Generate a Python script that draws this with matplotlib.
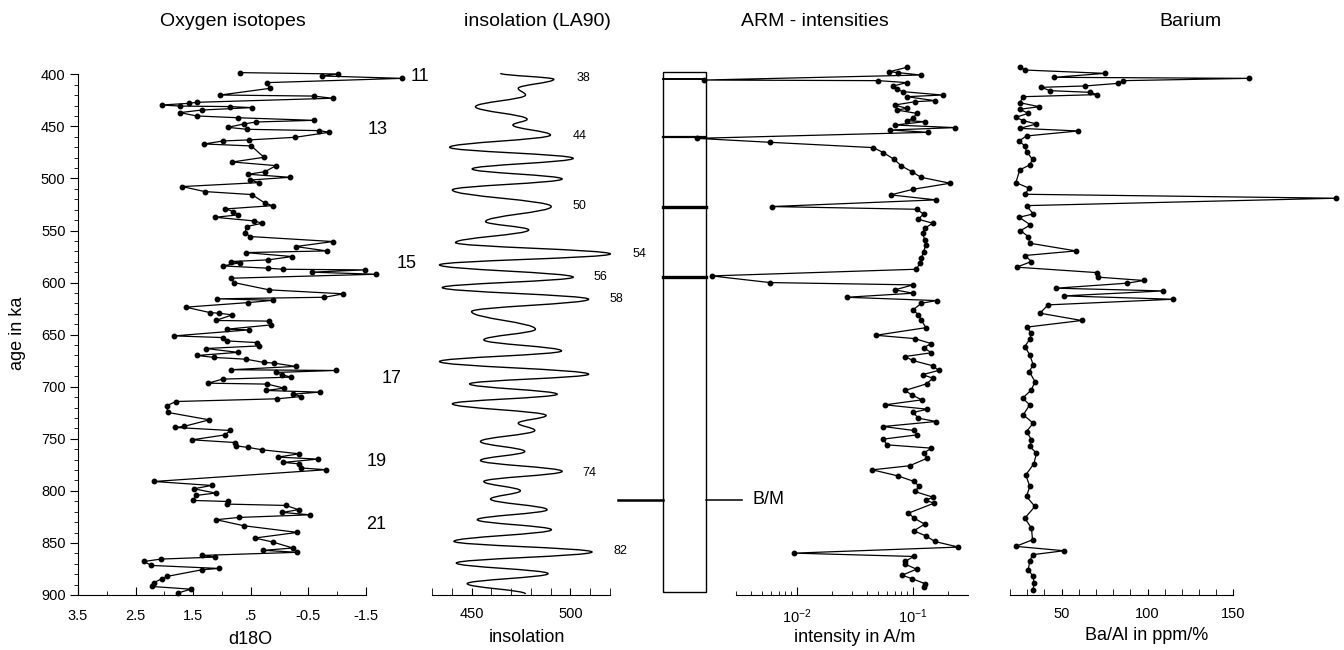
import matplotlib
matplotlib.use("Agg")
import matplotlib.pyplot as plt
import matplotlib.transforms as mtransforms
from matplotlib.path import Path
from matplotlib.patches import PathPatch, Rectangle
from matplotlib.ticker import FixedLocator, NullFormatter

plt.rcParams['font.family'] = ['Liberation Sans', 'DejaVu Sans']
plt.rcParams['mathtext.fontset'] = 'custom'
plt.rcParams['mathtext.rm'] = 'Liberation Sans'
plt.rcParams['mathtext.it'] = 'Liberation Sans'

# ---- oxygen isotopes (age ka, d18O)
d18o_age = [398.4, 399.7, 401.6, 403.9, 408.0, 413.5, 419.9, 420.9, 423.0, 426.9,
            427.9, 429.5, 430.5, 431.0, 432.0, 434.3, 436.8, 440.0, 441.7, 444.2,
            445.8, 447.7, 450.9, 452.8, 454.1, 455.7, 460.5, 463.0, 464.0, 466.9,
            468.8, 479.7, 484.2, 487.7, 493.4, 496.0, 498.9, 501.5, 504.0, 507.8,
            512.6, 515.5, 523.8, 526.1, 529.3, 531.8, 535.0, 537.3, 540.8, 543.0,
            546.2, 552.0, 555.8, 560.6, 565.4, 569.6, 571.2, 575.0, 578.2, 579.8,
            581.0, 584.0, 586.2, 587.2, 587.8, 590.0, 592.0, 595.8, 600.0, 607.0,
            610.8, 614.1, 615.6, 617.0, 619.2, 623.6, 628.8, 629.4, 631.0, 636.4,
            637.0, 640.6, 644.8, 645.4, 651.2, 652.8, 656.0, 657.6, 660.8, 663.3,
            667.0, 670.0, 671.9, 673.6, 676.7, 677.3, 680.5, 683.7, 684.4, 686.3,
            688.6, 690.8, 692.7, 696.6, 697.5, 701.4, 703.6, 705.2, 707.1, 709.4,
            711.6, 714.2, 718.3, 724.7, 731.8, 738.1, 739.1, 742.0, 746.2, 751.0,
            753.6, 756.8, 758.3, 760.6, 764.4, 767.6, 769.5, 772.7, 774.0, 778.0,
            779.7, 791.0, 794.8, 798.0, 802.1, 804.4, 809.2, 810.2, 812.7, 814.0,
            818.1, 820.7, 823.0, 825.5, 827.7, 833.5, 839.9, 845.3, 849.1, 854.9,
            857.1, 859.0, 862.0, 863.6, 865.5, 867.8, 871.6, 874.5, 875.7, 882.2,
            884.4, 888.0, 891.8, 894.4, 898.2]
d18o_val = [0.68, -1.02, -0.73, -2.13, 0.22, 0.17, 1.03, -0.59, -0.92, 1.44,
            1.58, 2.05, 1.73, 0.86, 0.48, 1.35, 1.73, 1.44, 0.73, -0.59,
            0.41, 0.62, 0.90, 0.57, -0.69, -0.86, -0.27, 0.53, 0.98, 1.31,
            0.49, 0.27, 0.82, 0.06, 0.25, 0.54, -0.18, 0.51, 0.36, 1.69,
            1.30, 0.48, 0.25, 0.12, 0.94, 0.80, 0.72, 1.12, 0.44, 0.30,
            0.57, 0.60, 0.51, -0.93, -0.28, -0.82, 0.59, -0.22, 0.20, 0.85,
            0.69, 0.99, 0.20, -0.06, -1.48, -0.56, -1.67, 0.84, 0.79, 0.18,
            -1.11, -0.78, 1.08, 0.11, 0.54, 1.63, 1.21, 1.06, 0.82, 1.11,
            0.18, 0.14, 0.92, 0.53, 1.83, 0.98, 0.92, 0.40, 0.35, 1.28,
            0.72, 1.43, 1.13, 0.58, 0.27, 0.10, -0.28, 0.85, -0.98, 0.07,
            -0.05, -0.20, 0.99, 1.24, 0.21, -0.08, 0.24, -0.70, -0.24, -0.38,
            0.04, 1.80, 1.96, 1.94, 1.22, 1.66, 1.82, 0.86, 0.94, 1.52,
            0.77, 0.76, 0.54, 0.30, -0.34, 0.03, -0.67, -0.06, -0.33, -0.37,
            -0.81, 2.18, 1.18, 1.49, 1.11, 1.45, 1.50, 0.90, 0.92, -0.11,
            -0.33, -0.05, -0.53, 0.70, 1.10, 0.62, -0.31, 0.43, 0.12, -0.23,
            0.28, -0.31, 1.35, 1.12, 2.06, 2.35, 2.23, 1.05, 1.34, 1.96,
            2.04, 2.18, 2.22, 1.54, 1.77]
stage_labels = ['11', '13', '15', '17', '19', '21']
stage_val = [-2.44, -1.71, -2.21, -1.95, -1.69, -1.67]
stage_age = [402.3, 452.8, 582.1, 691.7, 771.8, 831.9]

# ---- insolation turning points (age ka, W/m2)
ins_age = [399.0, 404.8, 413.5, 419.9, 431.1, 443.2, 448.7, 458.3, 470.1, 480.7,
           490.9, 500.5, 511.0, 527.0, 541.4, 549.4, 561.6, 572.5, 583.0, 594.8,
           604.8, 616.0, 627.8, 644.8, 655.0, 665.6, 675.8, 688.0, 697.3, 707.2,
           716.4, 727.6, 735.0, 742.0, 752.6, 762.2, 770.8, 781.3, 791.0, 799.9,
           807.9, 818.1, 827.7, 837.3, 848.5, 858.7, 869.3, 879.5, 889.1, 899.0]
ins_val = [464.6, 491.6, 473.6, 477.3, 452.0, 478.1, 470.9, 489.9, 438.9, 501.4,
           450.3, 495.8, 440.3, 490.3, 457.1, 478.9, 441.9, 520.2, 433.8, 501.4,
           435.2, 509.2, 450.0, 482.3, 456.2, 495.5, 433.8, 509.2, 449.0, 493.3,
           440.3, 487.7, 473.6, 482.0, 454.5, 476.9, 454.5, 495.8, 456.2, 474.7,
           459.6, 488.2, 452.9, 490.4, 441.1, 510.9, 442.3, 488.7, 447.8, 477.3]
cycle_labels = ['38', '44', '50', '54', '56', '58', '74', '82']
cycle_val = [506.4, 504.8, 504.3, 534.7, 515.0, 523.4, 509.4, 525.1]
cycle_age = [403.6, 459.2, 526.1, 572.5, 594.2, 615.9, 782.6, 858.2]

# ---- ARM intensities (age ka, A/m)
arm_age = [393.3, 397.5, 398.4, 400.7, 405.5, 406.1, 408.0, 411.2, 414.4, 416.7,
           419.9, 421.5, 425.3, 426.3, 429.5, 432.7, 434.3, 437.5, 442.3, 444.5,
           445.5, 448.7, 451.2, 453.5, 455.7, 461.5, 465.3, 470.4, 475.2, 481.6,
           488.0, 493.4, 498.9, 504.6, 510.4, 515.8, 520.6, 527.0, 529.6, 534.1,
           539.2, 543.0, 547.8, 552.6, 559.0, 563.8, 570.2, 576.6, 581.4, 587.2,
           593.6, 600.0, 602.2, 607.0, 610.2, 614.1, 617.3, 619.8, 626.2, 631.0,
           636.2, 643.3, 650.6, 653.8, 658.6, 662.5, 667.4, 671.0, 674.8, 679.9,
           684.4, 688.4, 691.8, 697.2, 703.6, 707.8, 712.6, 717.4, 721.6, 724.7,
           730.2, 733.4, 738.2, 742.0, 746.2, 750.3, 755.8, 759.0, 763.8, 768.6,
           775.9, 779.8, 785.6, 791.0, 795.8, 800.6, 806.0, 809.2, 811.8, 821.4,
           826.2, 832.0, 838.4, 843.2, 848.6, 854.0, 859.8, 863.0, 867.8, 870.4,
           875.2, 881.0, 884.2, 889.0, 892.2]
arm_val = [0.089, 0.063, 0.075, 0.118, 0.00158, 0.0506, 0.089, 0.068, 0.073, 0.083,
           0.181, 0.089, 0.155, 0.105, 0.070, 0.089, 0.073, 0.108, 0.101, 0.089,
           0.127, 0.070, 0.232, 0.064, 0.136, 0.00137, 0.0059, 0.0458, 0.0559, 0.069,
           0.080, 0.098, 0.118, 0.21, 0.101, 0.0646, 0.159, 0.00608, 0.108, 0.124,
           0.112, 0.149, 0.127, 0.122, 0.127, 0.130, 0.124, 0.119, 0.116, 0.107,
           0.00185, 0.0059, 0.101, 0.070, 0.101, 0.027, 0.161, 0.119, 0.101, 0.112,
           0.119, 0.130, 0.0483, 0.104, 0.145, 0.124, 0.145, 0.086, 0.100, 0.149,
           0.167, 0.122, 0.149, 0.132, 0.086, 0.098, 0.120, 0.0578, 0.134, 0.101,
           0.112, 0.159, 0.0559, 0.102, 0.110, 0.0559, 0.060, 0.145, 0.124, 0.134,
           0.094, 0.0449, 0.0743, 0.103, 0.114, 0.104, 0.149, 0.130, 0.153, 0.092,
           0.103, 0.127, 0.102, 0.130, 0.155, 0.248, 0.0095, 0.102, 0.086, 0.086,
           0.108, 0.081, 0.098, 0.127, 0.125]
event_age = [404.8, 459.8, 527.0, 594.7]
event_width = [1.4, 1.6, 2.4, 2.4]
bm_age = 808.5

# ---- barium (age ka, Ba/Al ppm/%)
ba_age = [392.7, 395.9, 399.1, 402.9, 403.9, 406.1, 408.7, 411.2, 412.5, 415.7,
          417.3, 419.5, 421.5, 427.3, 431.1, 433.6, 437.5, 441.3, 444.5, 447.7,
          451.9, 454.4, 459.2, 464.0, 468.8, 474.2, 481.6, 487.0, 491.8, 504.0,
          509.4, 515.2, 519.0, 526.1, 534.1, 537.3, 544.6, 550.1, 555.8, 562.2,
          569.6, 574.0, 579.8, 585.2, 590.4, 594.8, 598.0, 600.6, 605.4, 608.0,
          612.8, 616.0, 621.4, 629.4, 636.4, 642.8, 648.6, 654.4, 661.4, 669.4,
          679.0, 685.4, 695.0, 703.0, 711.0, 717.4, 727.0, 735.0, 743.0, 751.0,
          757.3, 763.8, 774.0, 784.6, 795.8, 805.4, 815.0, 826.2, 835.8, 847.0,
          853.3, 857.5, 861.3, 867.7, 875.7, 882.2, 888.5, 894.9]
ba_val = [26.1, 28.6, 75.3, 45.5, 158.8, 85.9, 83.0, 63.6, 38.3, 43.2,
          66.5, 70.8, 27.7, 25.7, 37.0, 25.7, 30.6, 23.4, 27.7, 35.4,
          25.7, 59.7, 29.6, 25.3, 28.6, 29.6, 33.1, 31.5, 25.7, 23.4,
          31.2, 28.6, 209.9, 29.6, 33.5, 25.3, 31.9, 26.1, 30.6, 31.5,
          58.4, 28.6, 32.5, 23.8, 70.4, 71.4, 98.0, 87.9, 46.7, 109.2,
          51.4, 115.1, 42.2, 37.4, 61.7, 29.6, 32.5, 31.5, 28.6, 31.5,
          33.5, 31.2, 34.5, 32.5, 27.3, 31.5, 27.7, 33.5, 29.6, 32.5,
          31.5, 35.4, 33.9, 29.2, 31.5, 29.6, 34.5, 28.6, 32.5, 33.1,
          23.4, 51.4, 33.1, 31.5, 30.6, 33.5, 33.9, 33.5]

W, H = 1344, 650
fig = plt.figure(figsize=(W / 100, H / 100), dpi=100)


def panel(x0, x1):
    # all four panels share the same age range: 400 ka at y=74, 900 ka at y=595
    return fig.add_axes([x0 / W, (H - 595) / H, (x1 - x0) / W, (595 - 74.3) / H])


def label(x, y, s, **kw):
    fig.text(x / W, 1 - y / H, s, ha='center', va='center', **kw)


line_kw = dict(color='black', lw=0.9, marker='o', ms=3.2, clip_on=False)
tick_size = 10.5

# ---- panel 1: oxygen isotopes
ax1 = panel(78, 412)
ax1.plot(d18o_val, d18o_age, **line_kw)
ax1.set_xlim(3.5, -2.3)
ax1.set_ylim(900, 400)
for s in ('top', 'right'):
    ax1.spines[s].set_visible(False)
ax1.spines['bottom'].set_bounds(3.5, -1.5)
ax1.set_xticks([3.5, 2.5, 1.5, 0.5, -0.5, -1.5])
ax1.set_xticklabels(['3.5', '2.5', '1.5', '.5', '-0.5', '-1.5'])
ax1.xaxis.set_minor_locator(FixedLocator([3.0, 2.0, 1.0, 0.0, -1.0]))
ax1.set_yticks(range(400, 901, 50))
ax1.yaxis.set_minor_locator(FixedLocator(range(400, 901, 10)))
ax1.tick_params(axis='x', which='both', direction='in', labelsize=tick_size, pad=10)
ax1.tick_params(axis='x', which='major', length=6)
ax1.tick_params(axis='x', which='minor', length=3)
ax1.tick_params(axis='y', which='major', direction='out', length=6, labelsize=tick_size, pad=3)
ax1.tick_params(axis='y', which='minor', direction='out', length=3)
for s, v, a in zip(stage_labels, stage_val, stage_age):
    ax1.text(v, a, s, fontsize=13, ha='center', va='center', clip_on=False)

# ---- panel 2: insolation, smooth curve through the turning points
ax2 = panel(430, 612)
verts = [(ins_val[0], ins_age[0])]
codes = [Path.MOVETO]
for i in range(1, len(ins_age)):
    v0, a0 = ins_val[i - 1], ins_age[i - 1]
    v1, a1 = ins_val[i], ins_age[i]
    d = 0.38 * (a1 - a0)
    verts += [(v0, a0 + d), (v1, a1 - d), (v1, a1)]
    codes += [Path.CURVE4] * 3
ax2.add_patch(PathPatch(Path(verts, codes), fill=False, ec='black', lw=1.0, clip_on=False))
ax2.set_xlim(429, 521)
ax2.set_ylim(900, 400)
for s in ('top', 'right', 'left'):
    ax2.spines[s].set_visible(False)
ax2.spines['bottom'].set_bounds(430, 520)
ax2.set_yticks([])
ax2.set_xticks([450, 500])
ax2.xaxis.set_minor_locator(FixedLocator([430, 440, 460, 470, 480, 490, 510, 520]))
ax2.tick_params(axis='x', which='both', direction='in', length=5, labelsize=tick_size, pad=9)
for s, v, a in zip(cycle_labels, cycle_val, cycle_age):
    ax2.text(v, a, s, fontsize=9, ha='center', va='center', clip_on=False)

# ---- panel 3: ARM intensities with the polarity column
ax3 = panel(662, 968)
ax3.set_xscale('log')
ax3.plot(arm_val, arm_age, **line_kw)
ax3.set_xlim(10 ** -3.161, 10 ** -0.523)
ax3.set_ylim(900, 400)
for s in ('top', 'right', 'left'):
    ax3.spines[s].set_visible(False)
ax3.spines['bottom'].set_bounds(0.003, 0.3)
ax3.set_yticks([])
ax3.xaxis.set_major_locator(FixedLocator([0.01, 0.1]))
ax3.set_xticklabels(['$10^{-2}$', '$10^{-1}$'])
ax3.xaxis.set_minor_locator(FixedLocator(
    [k * 0.001 for k in range(3, 10)] + [k * 0.01 for k in range(2, 10)] + [0.2, 0.3]))
ax3.xaxis.set_minor_formatter(NullFormatter())
ax3.tick_params(axis='x', which='major', direction='in', length=6, labelsize=tick_size, pad=9)
ax3.tick_params(axis='x', which='minor', direction='in', length=3)

col = mtransforms.blended_transform_factory(ax3.transAxes, ax3.transData)
ax3.add_patch(Rectangle((0.002, 398), 0.141, 499, fill=False, ec='black', lw=1.0,
                        transform=col, clip_on=False))
for a, w in zip(event_age, event_width):
    ax3.plot([0.002, 0.143], [a, a], color='black', lw=w, transform=col, clip_on=False)
ax3.plot([-0.144, 0.002], [bm_age, bm_age], color='black', lw=1.8, transform=col, clip_on=False)
ax3.plot([0.143, 0.261], [bm_age, bm_age], color='black', lw=1.1, transform=col, clip_on=False)
ax3.text(0.297, bm_age, 'B/M', fontsize=13, va='center', ha='left', transform=col)

# ---- panel 4: barium
ax4 = panel(1010, 1340)
ax4.plot(ba_val, ba_age, **line_kw)
ax4.set_xlim(20, 212)
ax4.set_ylim(900, 400)
for s in ('top', 'right', 'left'):
    ax4.spines[s].set_visible(False)
ax4.spines['bottom'].set_bounds(20, 150)
ax4.set_yticks([])
ax4.set_xticks([50, 100, 150])
ax4.xaxis.set_minor_locator(FixedLocator([20, 30, 40, 60, 70, 80, 90, 110, 120, 130, 140]))
ax4.tick_params(axis='x', which='both', direction='in', length=4, labelsize=tick_size, pad=9)

# ---- titles and axis labels
label(233, 22, 'Oxygen isotopes', fontsize=14)
label(537, 22, 'insolation (LA90)', fontsize=14)
label(815, 22, 'ARM - intensities', fontsize=14)
label(1190, 22, 'Barium', fontsize=14)
label(250, 639, 'd18O', fontsize=13)
label(527, 637, 'insolation', fontsize=13)
label(855, 637, 'intensity in A/m', fontsize=13)
label(1147, 636, 'Ba/Al in ppm/%', fontsize=13)
label(17, 333, 'age in ka', fontsize=13, rotation=90)

fig.savefig('out.png', dpi=100)
